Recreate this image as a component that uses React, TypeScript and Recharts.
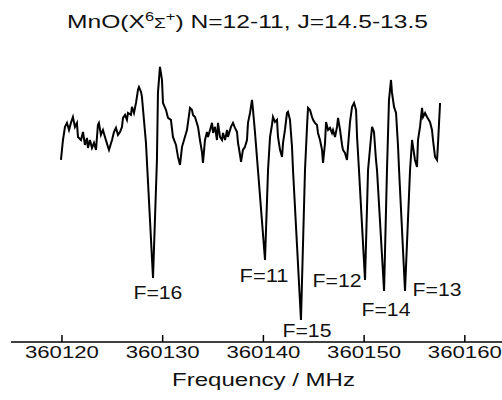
import React from "react";
import { ComposedChart, Line, Scatter, XAxis, YAxis } from "recharts";

// spectrum trace (frequency in MHz, intensity in arbitrary units)
const freqs = [
  360119.9, 360120.0, 360120.1, 360120.3, 360120.5, 360120.7, 360120.89, 360121.09, 360121.29, 360121.49,
  360121.59, 360121.89, 360122.09, 360122.28, 360122.48, 360122.58, 360122.78, 360122.98, 360123.18, 360123.38,
  360123.57, 360123.67, 360123.87, 360124.07, 360124.27, 360124.57, 360124.67, 360124.97, 360125.16, 360125.36,
  360125.56, 360125.76, 360125.96, 360126.06, 360126.26, 360126.45, 360126.55, 360126.85, 360126.95, 360127.15,
  360127.35, 360127.55, 360127.65, 360127.85, 360127.94, 360128.14, 360128.34, 360129.04, 360129.43, 360129.53,
  360129.73, 360129.93, 360130.03, 360130.33, 360130.53, 360130.82, 360131.02, 360131.32, 360131.52, 360131.72,
  360131.92, 360132.12, 360132.41, 360132.51, 360132.71, 360132.91, 360133.01, 360133.21, 360133.51, 360133.7,
  360133.9, 360134.0, 360134.2, 360134.4, 360134.5, 360134.7, 360134.9, 360135.0, 360135.19, 360135.39,
  360135.49, 360135.69, 360135.89, 360135.99, 360136.19, 360136.39, 360136.48, 360136.78, 360136.98, 360137.18,
  360137.38, 360137.48, 360137.68, 360137.78, 360137.97, 360138.17, 360138.37, 360138.47, 360138.67, 360138.87,
  360138.97, 360139.17, 360139.46, 360140.16, 360140.46, 360140.66, 360140.85, 360140.95, 360141.15, 360141.35,
  360141.45, 360141.65, 360141.85, 360141.95, 360142.14, 360142.34, 360142.44, 360142.64, 360142.84, 360142.94,
  360143.73, 360144.13, 360144.33, 360144.43, 360144.63, 360144.83, 360144.93, 360145.12, 360145.32, 360145.42,
  360145.62, 360145.82, 360145.92, 360146.12, 360146.22, 360146.42, 360146.61, 360146.81, 360146.91, 360147.11,
  360147.31, 360147.41, 360147.61, 360147.81, 360147.9, 360148.1, 360148.3, 360148.4, 360148.6, 360148.8,
  360149.0, 360149.2, 360149.3, 360149.49, 360150.09, 360150.39, 360150.69, 360150.79, 360150.98, 360151.18,
  360151.28, 360151.98, 360152.27, 360152.47, 360152.67, 360152.77, 360152.97, 360153.17, 360153.37, 360153.47,
  360154.06, 360154.56, 360154.76, 360154.86, 360155.05, 360155.25, 360155.35, 360155.55, 360155.75, 360155.85,
  360156.05, 360156.25, 360156.54, 360156.74, 360156.84, 360157.04, 360157.24, 360157.34, 360157.54,
];

const intensities = [
  -15.8, -10.5, -5.3, 1.6, 3.7, 0, 3.7, 6.8, 1.6, 3.7,
  -3.7, -5.3, -1.1, -7.9, -4.2, -9.5, -5.3, -9.5, -6.8, -10.5,
  2.6, 3.7, -2.6, 0, -3.7, -8.9, -10.5, -5.3, -1.1, 1.1,
  -2.6, -1.1, 1.6, 6.3, 7.9, 5.3, 8.9, 7.9, 12.1, 8.9,
  14.2, 21.1, 22.6, 20.0, 17.4, 5.3, -6.8, -77.9, -15.8, 19.5,
  33.2, 26.3, 14.2, 10.5, 6.3, 5.3, -3.7, -7.9, -14.2, -18.4,
  -8.9, -5.3, 0, 3.7, 11.6, 10.5, 7.9, 6.8, 1.6, -5.3,
  -11.6, -17.4, -5.3, -1.1, -3.7, 0, 3.7, -1.6, 1.6, -5.3,
  3.7, -3.7, -5.3, -1.6, -5.3, 0, -3.7, 1.6, 3.7, 1.1,
  -1.1, -6.8, -13.2, -16.8, -10.5, -8.9, -5.3, 3.7, 8.9, 15.8,
  10.5, -1.6, -21.1, -68.4, -21.1, -3.7, 2.6, 6.8, 4.2, 5.3,
  -3.7, -10.5, -14.2, -6.8, 0, 8.9, 9.5, 5.3, -8.9, -21.1,
  -100.0, -21.1, 1.6, 11.6, 10.5, 6.8, 5.3, 3.7, 2.6, -1.6,
  -5.3, -10.5, -17.4, -6.8, 4.2, 0, 1.1, -1.6, 0, -3.7,
  1.6, 6.3, 0, -7.9, -10.5, -12.1, -15.8, -8.9, 4.2, 12.1,
  14.2, 10.5, -3.7, -21.1, -78.9, -21.1, -3.7, 1.6, -1.1, -15.8,
  -21.1, -84.7, -21.1, 15.8, 26.3, 19.5, 12.1, 8.9, -8.9, -21.1,
  -84.7, -21.1, -5.3, -8.9, -15.8, -19.5, -5.3, 1.6, 11.6, 6.8,
  8.9, 6.8, 4.2, 0, -5.3, -14.2, -15.8, -6.8, 14.2,
];

// hyperfine component labels
const labelNames = ["F=16", "F=11", "F=15", "F=12", "F=14", "F=13"];
const labelFreqs = [360129.53, 360140.06, 360144.33, 360147.31, 360152.17, 360157.24];
const labelValues = [-85.3, -76.8, -105.3, -79.5, -94.7, -84.2];

const freqTicks = [360120, 360130, 360140, 360150, 360160];

const data = freqs.map((f, i) => ({ f, v: intensities[i] }));
const labels = labelNames.map((name, i) => ({ name, f: labelFreqs[i], v: labelValues[i] }));

const FONT = "'Liberation Sans', Arial, sans-serif";

const FreqTick = (props: any) => {
  const { x, y, payload } = props;
  return (
    <g>
      <line x1={x} y1={y} x2={x} y2={y - 7} stroke="#000" strokeWidth={1.5} />
      <text
        x={x}
        y={y + 16}
        textAnchor="middle"
        fontFamily={FONT}
        fontSize={16}
        fill="#111"
        textLength={74}
        lengthAdjust="spacingAndGlyphs"
      >
        {payload.value}
      </text>
    </g>
  );
};

const PeakLabel = (props: any) => {
  const { cx, cy, payload } = props;
  return (
    <text
      x={cx}
      y={cy}
      dy="0.36em"
      textAnchor="middle"
      fontFamily={FONT}
      fontSize={18}
      fill="#111"
      textLength={49}
      lengthAdjust="spacingAndGlyphs"
    >
      {payload.name}
    </text>
  );
};

export default function App() {
  return (
    <div style={{ position: "absolute", left: 0, top: 0, width: 502, height: 400, background: "#fff" }}>
      <ComposedChart width={502} height={400} data={data} margin={{ top: 60, right: 0, bottom: 0, left: 11 }}>
        <XAxis
          dataKey="f"
          type="number"
          domain={[360114.94, 360163.69]}
          ticks={freqTicks}
          allowDataOverflow
          height={58}
          tickSize={0}
          tickMargin={0}
          tickLine={false}
          axisLine={{ stroke: "#000", strokeWidth: 1.5 }}
          tick={<FreqTick />}
          interval={0}
        />
        <YAxis hide type="number" domain={[-111.6, 36.8]} allowDataOverflow />
        <Line
          type="linear"
          dataKey="v"
          stroke="#000"
          strokeWidth={2}
          dot={false}
          activeDot={false}
          isAnimationActive={false}
        />
        <Scatter data={labels} dataKey="v" shape={<PeakLabel />} isAnimationActive={false} />
      </ComposedChart>
      <svg
        width={502}
        height={400}
        style={{ position: "absolute", left: 0, top: 0, pointerEvents: "none" }}
      >
        <text
          x={247.5}
          y={28}
          textAnchor="middle"
          fontFamily={FONT}
          fontSize={18}
          fill="#111"
          textLength={361}
          lengthAdjust="spacingAndGlyphs"
        >
          <tspan>MnO(X</tspan>
          <tspan dy={-7} fontSize={12}>6</tspan>
          <tspan dy={7} fontSize={14}>Σ</tspan>
          <tspan dy={-7} fontSize={12}>+</tspan>
          <tspan dy={7}>) N=12-11, J=14.5-13.5</tspan>
        </text>
        <text
          x={263.5}
          y={386}
          textAnchor="middle"
          fontFamily={FONT}
          fontSize={19}
          fill="#111"
          textLength={183}
          lengthAdjust="spacingAndGlyphs"
        >
          Frequency / MHz
        </text>
      </svg>
    </div>
  );
}
